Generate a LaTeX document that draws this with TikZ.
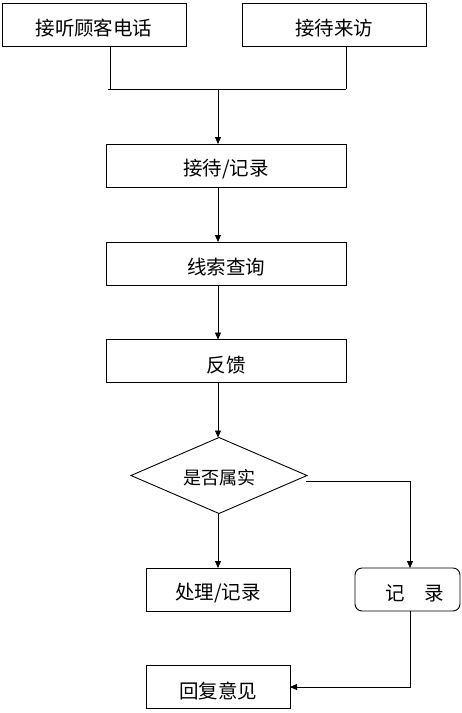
\documentclass[tikz,border=0pt]{standalone}
\usepackage{fontspec}
\setmainfont{Noto Sans CJK SC}
\usetikzlibrary{shapes.geometric,arrows.meta}
\newcommand{\lowtxt}[1]{\raisebox{-4pt}[\height][\depth]{#1}}
\begin{document}
\begin{tikzpicture}[x=1pt,y=-1pt,
  every node/.style={inner sep=0pt,outer sep=0pt},
  box/.style={draw,line width=0.9pt,minimum width=#1,minimum height=43pt,font=\fontsize{19.5}{19.5}\selectfont},
  box/.default=240pt,
  conn/.style={line width=0.9pt},
  arr/.style={conn,-{Triangle[length=7pt,width=6pt]}}]
\useasboundingbox (0,0) rectangle (462,713);
\node[box=184pt] (a) at (94,24.5) {\lowtxt{接听顾客电话}};
\node[box=184pt] (b) at (334,24.5) {\lowtxt{接待来访}};
\node[box] (c) at (226,165.5) {\lowtxt{接待/记录}};
\node[box] (d) at (226,263.5) {\lowtxt{线索查询}};
\node[box] (e) at (226,361) {\lowtxt{反馈}};
\node[draw,diamond,aspect=2.35,line width=0.9pt,minimum width=176pt,minimum height=76pt,font=\fontsize{18}{18}\selectfont] (f) at (219,475.5) {\raisebox{-2pt}[\height][\depth]{是否属实}};
\node[box=144pt] (g) at (218,589.5) {\lowtxt{处理/记录}};
\node[draw,rounded corners=7pt,line width=0.9pt,minimum width=105pt,minimum height=43pt] (h) at (407.5,589.5) {};
\node[font=\fontsize{19.5}{19.5}\selectfont] (ht) at (415,589.5) {\lowtxt{记\hspace{1em}录}};
\node[box=144pt] (i) at (218,687) {\lowtxt{回复意见}};
\coordinate (j) at (218,89);
\coordinate (k) at (306,481);
\draw[conn] (108,89) -- (346,89);
\draw[conn] (a.south -| 110,0) -- (110,89);
\draw[conn] (b.south -| 346,0) -- (346,89);
\draw[arr] (j) -- (j |- c.north);
\draw[arr] (c.south -| 218,0) -- (d.north -| 218,0);
\draw[arr] (d.south -| 218,0) -- (e.north -| 218,0);
\draw[arr] (e.south -| 218,0) -- (f.north -| 218,0);
\draw[arr] (f.south -| 218,0) -- (g.north);
\draw[arr] (k) -- (410,481) -- (h.north -| 410,0);
\draw[arr] (h.south -| 410,0) -- (410,687) -- (i.east);
\end{tikzpicture}
\end{document}
